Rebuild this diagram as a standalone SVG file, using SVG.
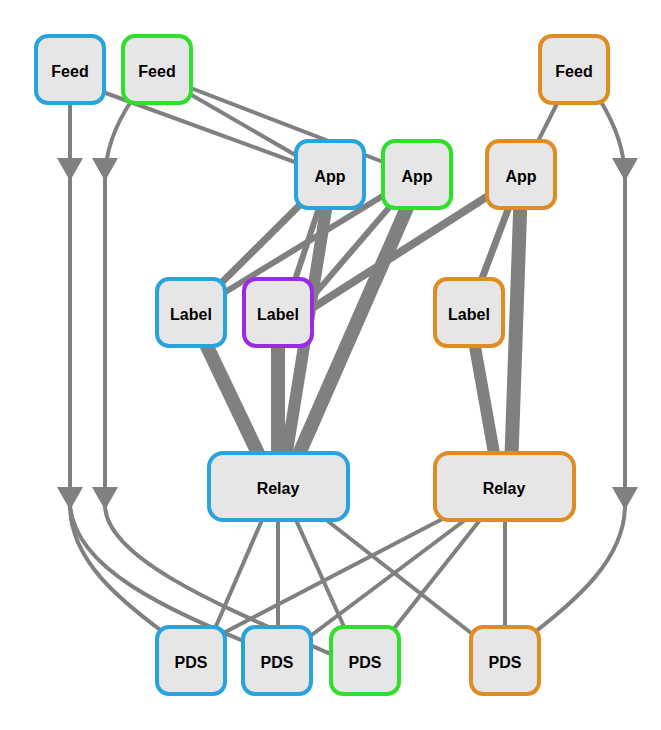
<svg xmlns="http://www.w3.org/2000/svg" width="661" height="730" viewBox="0 0 661 730">
<style>
.n rect{fill:#e6e6e6;stroke-width:4}
.n text{font-family:"Liberation Sans",Arial,sans-serif;font-weight:bold;font-size:16px;text-anchor:middle;fill:#000}
.b rect{stroke:#29a3dd}.g rect{stroke:#2fe02b}.o rect{stroke:#e08c24}.p rect{stroke:#9b2be0}
#edges line,#edges path{stroke:#808080;fill:none;stroke-width:4}
.ah{fill:#808080}
</style>
<rect width="661" height="730" fill="#fff"/>
<g id="edges">
<line x1="70" y1="80" x2="330" y2="175"/>
<line x1="157" y1="75" x2="330" y2="175"/>
<line x1="157" y1="75" x2="417" y2="175"/>
<line x1="574" y1="70" x2="521" y2="175"/>
<line x1="330" y1="175" x2="191" y2="313" style="stroke-width:7"/>
<line x1="417" y1="175" x2="191" y2="313" style="stroke-width:6"/>
<line x1="330" y1="175" x2="284" y2="313" style="stroke-width:6"/>
<line x1="417" y1="175" x2="284" y2="330" style="stroke-width:6"/>
<line x1="521" y1="175" x2="278" y2="330" style="stroke-width:8"/>
<line x1="330" y1="185" x2="284" y2="470" style="stroke-width:12"/>
<line x1="417" y1="185" x2="292" y2="470" style="stroke-width:14"/>
<line x1="191" y1="313" x2="266" y2="470" style="stroke-width:14"/>
<line x1="278" y1="313" x2="278" y2="470" style="stroke-width:14"/>
<line x1="521" y1="175" x2="469" y2="313" style="stroke-width:7"/>
<line x1="469" y1="313" x2="497" y2="470" style="stroke-width:12"/>
<line x1="521" y1="185" x2="511" y2="470" style="stroke-width:14"/>
<line x1="262" y1="520" x2="210" y2="640"/>
<line x1="278" y1="520" x2="278" y2="640"/>
<line x1="296" y1="520" x2="350" y2="640"/>
<line x1="320" y1="515" x2="480" y2="640"/>
<line x1="450" y1="515" x2="210" y2="640"/>
<line x1="465" y1="520" x2="305" y2="640"/>
<line x1="480" y1="520" x2="385" y2="640"/>
<line x1="505" y1="520" x2="505" y2="640"/>
<path d="M70,103 L70,505 C70,560 120,600 163,632"/>
<path d="M70,505 C75,570 170,610 248,643"/>
<path d="M132,100 C115,125 105,150 105,180 L105,505 C105,560 230,610 333,655"/>
<path d="M600,100 C615,125 625,150 625,180 L625,505 C625,560 575,600 535,632"/>
</g>
<g id="arrows">
<polygon class="ah" points="57,158 83,158 70,181"/>
<polygon class="ah" points="92,158 118,158 105,181"/>
<polygon class="ah" points="612,158 638,158 625,181"/>
<polygon class="ah" points="57,487 83,487 70,510"/>
<polygon class="ah" points="92,487 118,487 105,510"/>
<polygon class="ah" points="612,487 638,487 625,510"/>
</g>
<g id="feed1" class="n b"><rect x="36" y="36" width="68" height="67" rx="12"/><text x="70" y="77">Feed</text></g>
<g id="feed2" class="n g"><rect x="123" y="36" width="68" height="67" rx="12"/><text x="157" y="77">Feed</text></g>
<g id="feed3" class="n o"><rect x="540" y="36" width="68" height="67" rx="12"/><text x="574" y="77">Feed</text></g>
<g id="app1" class="n b"><rect x="296" y="141" width="68" height="67" rx="12"/><text x="330" y="182">App</text></g>
<g id="app2" class="n g"><rect x="383" y="141" width="68" height="67" rx="12"/><text x="417" y="182">App</text></g>
<g id="app3" class="n o"><rect x="487" y="141" width="68" height="67" rx="12"/><text x="521" y="182">App</text></g>
<g id="label1" class="n b"><rect x="157" y="279" width="68" height="67" rx="12"/><text x="191" y="320">Label</text></g>
<g id="label2" class="n p"><rect x="244" y="279" width="68" height="67" rx="12"/><text x="278" y="320">Label</text></g>
<g id="label3" class="n o"><rect x="435" y="279" width="68" height="67" rx="12"/><text x="469" y="320">Label</text></g>
<g id="relay1" class="n b"><rect x="209" y="453" width="139" height="67" rx="14"/><text x="278" y="494">Relay</text></g>
<g id="relay2" class="n o"><rect x="435" y="453" width="139" height="67" rx="14"/><text x="504" y="494">Relay</text></g>
<g id="pds1" class="n b"><rect x="157" y="627" width="68" height="67" rx="12"/><text x="191" y="668">PDS</text></g>
<g id="pds2" class="n b"><rect x="243" y="627" width="68" height="67" rx="12"/><text x="277" y="668">PDS</text></g>
<g id="pds3" class="n g"><rect x="331" y="627" width="68" height="67" rx="12"/><text x="365" y="668">PDS</text></g>
<g id="pds4" class="n o"><rect x="471" y="627" width="68" height="67" rx="12"/><text x="505" y="668">PDS</text></g>
</svg>
